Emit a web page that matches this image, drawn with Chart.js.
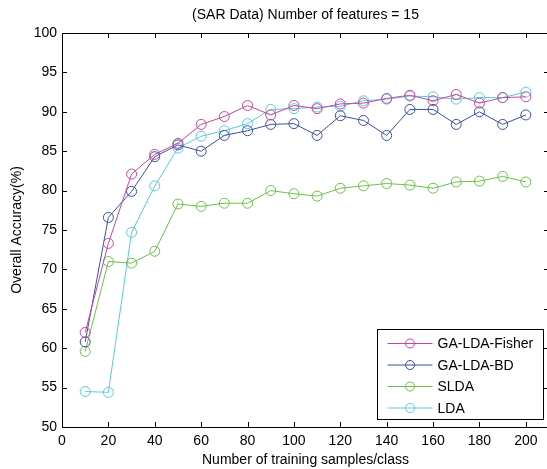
<!DOCTYPE html>
<html lang="en">
<head>
<meta charset="UTF-8">
<title>(SAR Data) Number of features = 15</title>
<script src="https://cdn.jsdelivr.net/npm/chart.js"></script>
<style>
  html, body { margin: 0; padding: 0; background: #fff; overflow: hidden; }
  #chart { display: block; }
</style>
</head>
<body>
<!-- the axes box runs a couple of pixels past the window edge, like the original figure -->
<canvas id="chart" width="549" height="469"></canvas>
<script>
// samples per class
const samples = [10, 20, 30, 40, 50, 60, 70, 80, 90, 100, 110, 120, 130, 140, 150, 160, 170, 180, 190, 200];

const gaLdaFisher = [62.0, 73.3, 82.1, 84.6, 86.0, 88.4, 89.4, 90.8, 89.6, 90.8, 90.4, 91.0, 91.1, 91.7, 92.1, 91.4, 92.2, 91.1, 91.8, 91.9];
const gaLdaBd     = [60.8, 76.6, 79.9, 84.3, 85.8, 85.0, 87.0, 87.6, 88.4, 88.5, 87.0, 89.5, 88.9, 87.0, 90.3, 90.3, 88.4, 90.0, 88.4, 89.6];
const slda        = [59.6, 71.0, 70.8, 72.3, 78.3, 78.0, 78.4, 78.4, 80.0, 79.6, 79.3, 80.3, 80.6, 80.9, 80.7, 80.3, 81.1, 81.2, 81.8, 81.1];
const lda         = [54.5, 54.4, 74.7, 80.6, 85.4, 86.9, 87.6, 88.5, 90.3, 90.4, 90.6, 90.7, 91.4, 91.6, 92.0, 91.9, 91.6, 91.8, 91.8, 92.5];

const xTicks = [0, 20, 40, 60, 80, 100, 120, 140, 160, 180, 200];
const yTicks = [50, 55, 60, 65, 70, 75, 80, 85, 90, 95, 100];

const seriesNames = ['GA-LDA-Fisher', 'GA-LDA-BD', 'SLDA', 'LDA'];
const seriesColors = ['#c4489f', '#3b4fa6', '#6cc04a', '#5cc8dc'];
const seriesData = [gaLdaFisher, gaLdaBd, slda, lda];

const FONT = '"Liberation Sans", Arial, sans-serif';
const FS = 14;

// MATLAB-like box with inward ticks
const boxPlugin = {
  id: 'box',
  afterDraw(chart) {
    const { ctx, chartArea: a, scales } = chart;
    ctx.save();
    ctx.strokeStyle = '#000';
    ctx.lineWidth = 1;
    ctx.strokeRect(Math.round(a.left) + 0.5, Math.round(a.top) + 0.5,
      Math.round(a.right - a.left), Math.round(a.bottom - a.top));
    ctx.beginPath();
    xTicks.forEach(v => {
      const px = Math.round(scales.x.getPixelForValue(v)) + 0.5;
      ctx.moveTo(px, a.bottom); ctx.lineTo(px, a.bottom - 5);
      ctx.moveTo(px, a.top); ctx.lineTo(px, a.top + 5);
    });
    yTicks.forEach(v => {
      const py = Math.round(scales.y.getPixelForValue(v)) + 0.5;
      ctx.moveTo(a.left, py); ctx.lineTo(a.left + 5, py);
      ctx.moveTo(a.right, py); ctx.lineTo(a.right - 5, py);
    });
    ctx.stroke();

    // legend box in the lower right corner
    const w = 166, h = 90;
    const bx = Math.round(a.right) - w - 6 + 0.5, by = Math.round(a.bottom) - h - 8 + 0.5;
    ctx.fillStyle = '#fff';
    ctx.fillRect(bx, by, w, h);
    ctx.strokeRect(bx, by, w, h);
    ctx.font = FS + 'px ' + FONT;
    ctx.textBaseline = 'middle';
    seriesNames.forEach((name, i) => {
      const y = by + 14 + i * 21.5;
      ctx.strokeStyle = seriesColors[i];
      ctx.beginPath();
      ctx.moveTo(bx + 10, y); ctx.lineTo(bx + 55, y);
      ctx.stroke();
      ctx.beginPath();
      ctx.arc(bx + 32.5, y, 4.5, 0, Math.PI * 2);
      ctx.stroke();
      ctx.fillStyle = '#000';
      ctx.fillText(name, bx + 60, y + 1);
    });
    ctx.restore();
  }
};

new Chart(document.getElementById('chart'), {
  type: 'line',
  data: {
    datasets: seriesData.map((d, i) => ({
      label: seriesNames[i],
      data: samples.map((x, j) => ({ x: x, y: d[j] })),
      borderColor: seriesColors[i],
      backgroundColor: 'rgba(0,0,0,0)',
      borderWidth: 1,
      pointRadius: 5,
      pointBorderWidth: 1,
      pointBackgroundColor: 'rgba(0,0,0,0)',
      pointBorderColor: seriesColors[i],
      tension: 0
    }))
  },
  options: {
    responsive: false,
    animation: false,
    layout: { autoPadding: false, padding: 0 },
    plugins: {
      legend: { display: false },
      tooltip: { enabled: false },
      title: {
        display: true,
        fullSize: false,
        text: '(SAR Data) Number of features = 15',
        color: '#000',
        font: { family: FONT, size: FS, weight: 'normal' },
        padding: { top: 6.6, bottom: 9.6 }
      }
    },
    scales: {
      x: {
        type: 'linear',
        min: 0,
        max: 210,
        afterBuildTicks: s => { s.ticks = xTicks.map(v => ({ value: v })); },
        afterFit: s => { s.height = 42; s.paddingLeft = 0; s.paddingRight = 0; },
        grid: { display: false, drawTicks: false },
        border: { display: false },
        ticks: { color: '#000', font: { family: FONT, size: FS }, padding: 6, maxRotation: 0 },
        title: {
          display: true,
          text: 'Number of training samples/class',
          color: '#000',
          font: { family: FONT, size: FS },
          padding: { top: 0, bottom: 0.5 }
        }
      },
      y: {
        min: 50,
        max: 100,
        afterBuildTicks: s => { s.ticks = yTicks.map(v => ({ value: v })); },
        afterFit: s => { s.width = 62; s.paddingTop = 0; s.paddingBottom = 0; },
        grid: { display: false, drawTicks: false },
        border: { display: false },
        ticks: { color: '#000', font: { family: FONT, size: FS }, padding: 5 },
        title: {
          display: true,
          text: 'Overall Accuracy(%)',
          color: '#000',
          font: { family: FONT, size: FS },
          padding: { top: 8.5, bottom: 0 }
        }
      }
    }
  },
  plugins: [boxPlugin]
});
</script>
</body>
</html>
